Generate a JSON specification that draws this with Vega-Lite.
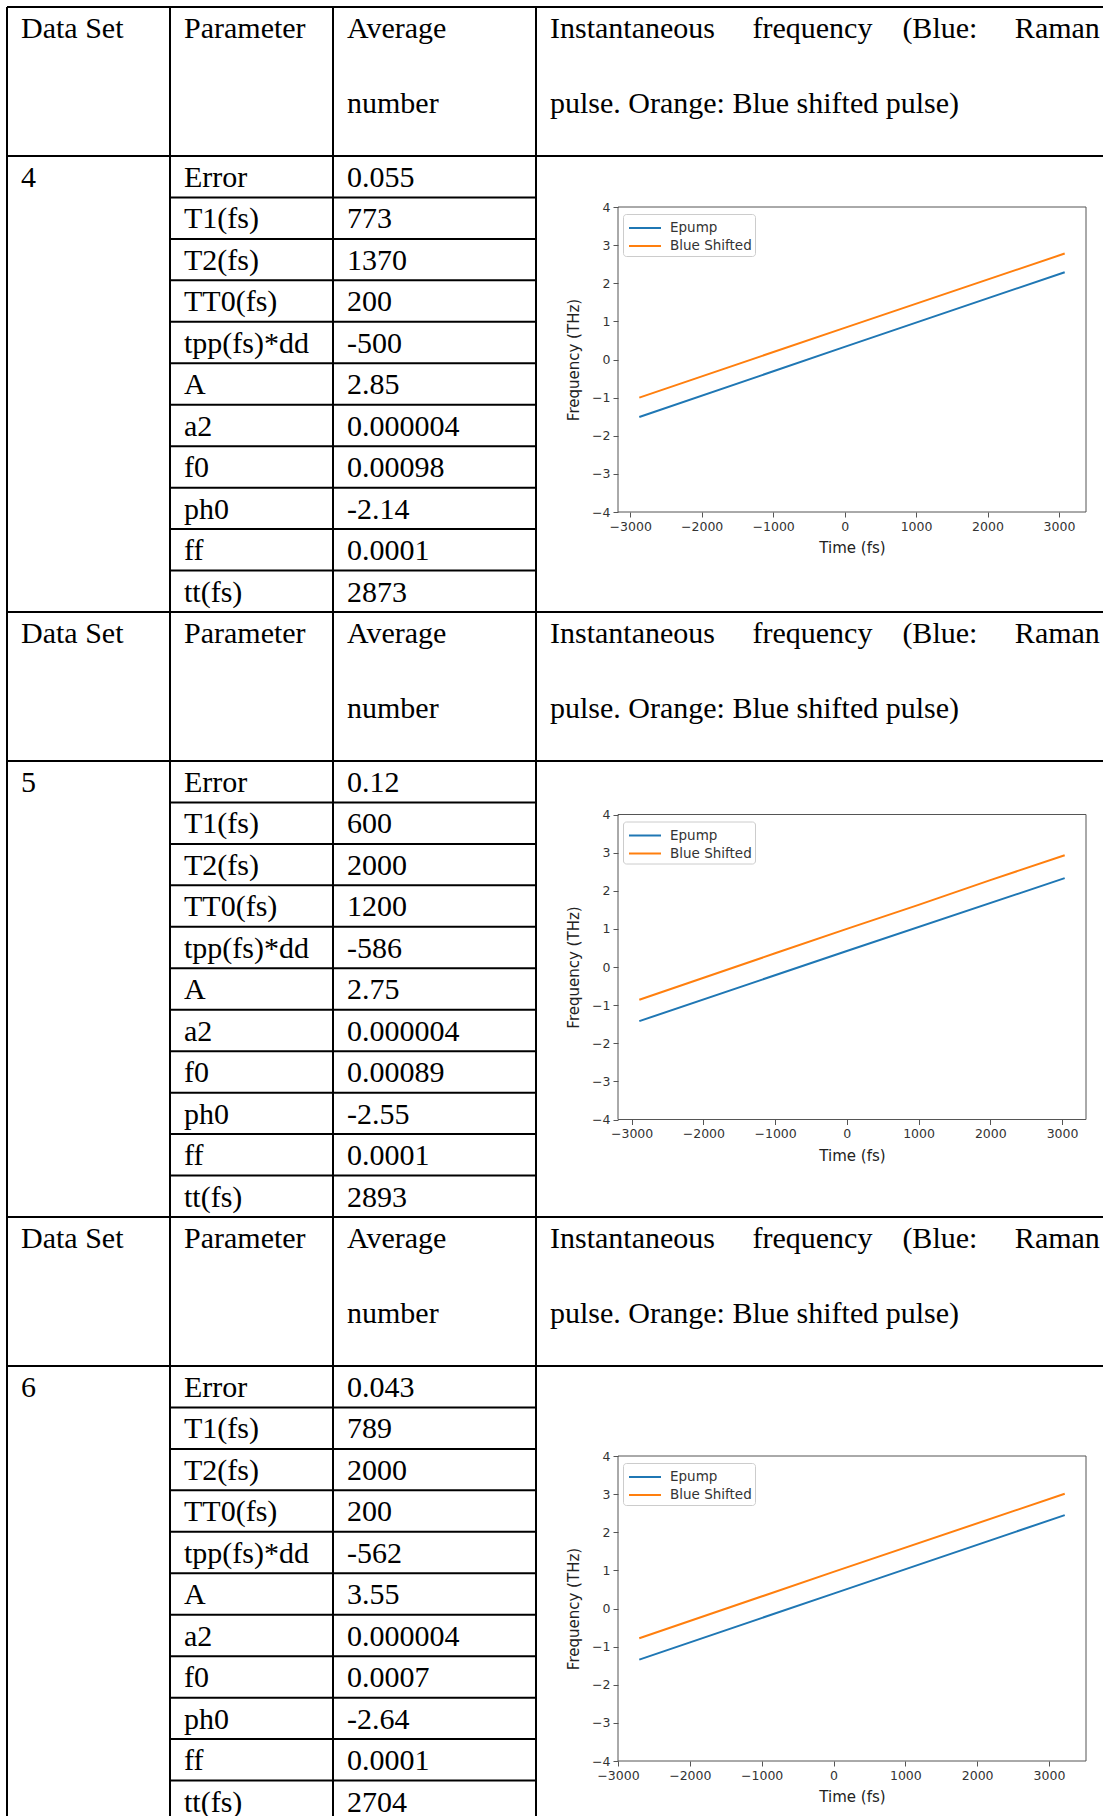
{
  "$schema": "https://vega.github.io/schema/vega-lite/v6.json",
  "background": "white",
  "padding": {"left": 6, "top": 6, "right": 0, "bottom": 0},
  "spacing": 0,
  "bounds": "flush",
  "config": {
    "view": {"stroke": null},
    "text": {"font": "Liberation Serif", "fontSize": 30, "align": "left", "baseline": "alphabetic", "dx": 14, "color": "black"},
    "rule": {"color": "black", "strokeWidth": 2}
  },
  "resolve": {
    "scale": {"x": "independent", "y": "independent", "color": "independent"},
    "axis": {"x": "independent", "y": "independent"},
    "legend": {"color": "independent"}
  },
  "datasets": {
    "header": [
      {"col": 0, "line": 0, "text": "Data Set"},
      {"col": 1, "line": 0, "text": "Parameter"},
      {"col": 2, "line": 0, "text": "Average"},
      {"col": 2, "line": 1, "text": "number"},
      {"col": 3, "line": 0, "text": "Instantaneous\u00a0\u00a0\u00a0\u00a0\u00a0frequency\u00a0\u00a0\u00a0\u00a0(Blue:\u00a0\u00a0\u00a0\u00a0\u00a0Raman"},
      {"col": 3, "line": 1, "text": "pulse. Orange: Blue shifted pulse)"}
    ],
    "borders": [{"b": 0}, {"b": 1}, {"b": 2}, {"b": 3}],
    "hlines": [{"h": 0}, {"h": 2}],
    "params": [
      {"ds": 4, "row": 0, "param": "Error", "value": "0.055"},
      {"ds": 4, "row": 1, "param": "T1(fs)", "value": "773"},
      {"ds": 4, "row": 2, "param": "T2(fs)", "value": "1370"},
      {"ds": 4, "row": 3, "param": "TT0(fs)", "value": "200"},
      {"ds": 4, "row": 4, "param": "tpp(fs)*dd", "value": "-500"},
      {"ds": 4, "row": 5, "param": "A", "value": "2.85"},
      {"ds": 4, "row": 6, "param": "a2", "value": "0.000004"},
      {"ds": 4, "row": 7, "param": "f0", "value": "0.00098"},
      {"ds": 4, "row": 8, "param": "ph0", "value": "-2.14"},
      {"ds": 4, "row": 9, "param": "ff", "value": "0.0001"},
      {"ds": 4, "row": 10, "param": "tt(fs)", "value": "2873"},
      {"ds": 5, "row": 0, "param": "Error", "value": "0.12"},
      {"ds": 5, "row": 1, "param": "T1(fs)", "value": "600"},
      {"ds": 5, "row": 2, "param": "T2(fs)", "value": "2000"},
      {"ds": 5, "row": 3, "param": "TT0(fs)", "value": "1200"},
      {"ds": 5, "row": 4, "param": "tpp(fs)*dd", "value": "-586"},
      {"ds": 5, "row": 5, "param": "A", "value": "2.75"},
      {"ds": 5, "row": 6, "param": "a2", "value": "0.000004"},
      {"ds": 5, "row": 7, "param": "f0", "value": "0.00089"},
      {"ds": 5, "row": 8, "param": "ph0", "value": "-2.55"},
      {"ds": 5, "row": 9, "param": "ff", "value": "0.0001"},
      {"ds": 5, "row": 10, "param": "tt(fs)", "value": "2893"},
      {"ds": 6, "row": 0, "param": "Error", "value": "0.043"},
      {"ds": 6, "row": 1, "param": "T1(fs)", "value": "789"},
      {"ds": 6, "row": 2, "param": "T2(fs)", "value": "2000"},
      {"ds": 6, "row": 3, "param": "TT0(fs)", "value": "200"},
      {"ds": 6, "row": 4, "param": "tpp(fs)*dd", "value": "-562"},
      {"ds": 6, "row": 5, "param": "A", "value": "3.55"},
      {"ds": 6, "row": 6, "param": "a2", "value": "0.000004"},
      {"ds": 6, "row": 7, "param": "f0", "value": "0.0007"},
      {"ds": 6, "row": 8, "param": "ph0", "value": "-2.64"},
      {"ds": 6, "row": 9, "param": "ff", "value": "0.0001"},
      {"ds": 6, "row": 10, "param": "tt(fs)", "value": "2704"}
    ],
    "curves": [
      {"ds": 4, "series": "Epump", "t": -2873, "f": -1.51},
      {"ds": 4, "series": "Epump", "t": 0, "f": 0.33},
      {"ds": 4, "series": "Epump", "t": 3080, "f": 2.29},
      {"ds": 4, "series": "Blue Shifted", "t": -2873, "f": -1.0},
      {"ds": 4, "series": "Blue Shifted", "t": 0, "f": 0.83},
      {"ds": 4, "series": "Blue Shifted", "t": 3080, "f": 2.78},
      {"ds": 5, "series": "Epump", "t": -2893, "f": -1.42},
      {"ds": 5, "series": "Epump", "t": 0, "f": 0.42},
      {"ds": 5, "series": "Epump", "t": 3037, "f": 2.33},
      {"ds": 5, "series": "Blue Shifted", "t": -2893, "f": -0.86},
      {"ds": 5, "series": "Blue Shifted", "t": -1000, "f": 0.36},
      {"ds": 5, "series": "Blue Shifted", "t": 0, "f": 1.0},
      {"ds": 5, "series": "Blue Shifted", "t": 1000, "f": 1.63},
      {"ds": 5, "series": "Blue Shifted", "t": 2000, "f": 2.28},
      {"ds": 5, "series": "Blue Shifted", "t": 3037, "f": 2.93},
      {"ds": 6, "series": "Epump", "t": -2704, "f": -1.34},
      {"ds": 6, "series": "Epump", "t": 0, "f": 0.39},
      {"ds": 6, "series": "Epump", "t": 3219, "f": 2.45},
      {"ds": 6, "series": "Blue Shifted", "t": -2704, "f": -0.78},
      {"ds": 6, "series": "Blue Shifted", "t": 0, "f": 0.96},
      {"ds": 6, "series": "Blue Shifted", "t": 3219, "f": 3.01}
    ]
  },
  "vconcat": [
    {
      "width": 1096, "height": 149,
      "layer": [
        {"data": {"name": "header"}, "mark": {"type": "text", "dy": 31, "clip": true},
         "encoding": {
           "x": {"field": "col", "type": "quantitative", "scale": {"domain": [0, 1, 2, 3], "range": [0, 163, 326, 529], "nice": false, "zero": false}, "axis": null},
           "y": {"field": "line", "type": "quantitative", "scale": {"domain": [0, 2], "range": [0, 149], "nice": false, "zero": false}, "axis": null},
           "text": {"field": "text", "type": "nominal"}}},
        {"data": {"name": "borders"}, "mark": "rule", "encoding": {"x": {"field": "b", "type": "quantitative", "axis": null}}},
        {"data": {"name": "hlines"}, "mark": "rule", "encoding": {"y": {"field": "h", "type": "quantitative", "axis": null}}}
      ]
    },
    {
      "width": 1096, "height": 456,
      "resolve": {"scale": {"x": "independent", "y": "independent"}, "axis": {"x": "independent", "y": "independent"}},
      "layer": [
        {"data": {"name": "params"}, "transform": [{"filter": "datum.ds == 4"}],
         "layer": [
           {"mark": {"type": "text", "dy": 31, "clip": true},
            "encoding": {
              "x": {"datum": 1, "type": "quantitative", "scale": {"domain": [0, 1, 2, 3], "range": [0, 163, 326, 529], "nice": false, "zero": false}, "axis": null},
              "y": {"field": "row", "type": "quantitative", "scale": {"domain": [0, 11], "range": [0, 456], "nice": false, "zero": false}, "axis": null},
              "text": {"field": "param", "type": "nominal"}}},
           {"mark": {"type": "text", "dy": 31, "clip": true},
            "encoding": {
              "x": {"datum": 2, "type": "quantitative", "axis": null},
              "y": {"field": "row", "type": "quantitative", "axis": null},
              "text": {"field": "value", "type": "nominal"}}},
           {"transform": [{"filter": "datum.row == 0"}], "mark": {"type": "text", "dy": 31, "clip": true},
            "encoding": {
              "x": {"datum": 0, "type": "quantitative", "axis": null},
              "y": {"field": "row", "type": "quantitative", "axis": null},
              "text": {"field": "ds", "type": "nominal"}}},
           {"transform": [{"filter": "datum.row >= 1"}], "mark": "rule",
            "encoding": {
              "x": {"datum": 1, "type": "quantitative", "axis": null},
              "x2": {"datum": 3},
              "y": {"field": "row", "type": "quantitative", "axis": null}}},
           {"data": {"name": "borders"}, "mark": "rule", "encoding": {"x": {"field": "b", "type": "quantitative", "axis": null}}}
         ]},
        {"layer": [
           {"data": {"values": [{}]}, "mark": {"type": "rect", "fillOpacity": 0, "stroke": "#555555", "strokeWidth": 1},
            "encoding": {
              "x": {"datum": -3171, "type": "quantitative", "scale": {"domain": [-3171, 3378], "range": [611, 1079], "nice": false, "zero": false},
                    "axis": {"orient": "bottom", "offset": -100, "values": [-3000, -2000, -1000, 0, 1000, 2000, 3000], "format": "d", "domain": false, "grid": false, "tickSize": 5, "tickColor": "#555555", "labelFont": "DejaVu Sans", "labelFontSize": 12.5, "labelColor": "#333333", "labelPadding": 3, "labelFlush": false, "labelOverlap": false, "title": "Time (fs)", "titleFont": "DejaVu Sans", "titleFontSize": 15, "titleFontWeight": "normal", "titleColor": "#222222", "titlePadding": 8}},
              "x2": {"datum": 3378},
              "y": {"datum": -4, "type": "quantitative", "scale": {"domain": [-4, 4], "range": [356, 51], "nice": false, "zero": false},
                    "axis": {"orient": "left", "offset": -611, "values": [-4, -3, -2, -1, 0, 1, 2, 3, 4], "format": "d", "domain": false, "grid": false, "tickSize": 5, "tickColor": "#555555", "labelFont": "DejaVu Sans", "labelFontSize": 12.5, "labelColor": "#333333", "labelPadding": 3, "labelFlush": false, "labelOverlap": false, "title": "Frequency (THz)", "titleFont": "DejaVu Sans", "titleFontSize": 15, "titleFontWeight": "normal", "titleColor": "#222222", "titlePadding": 10}},
              "y2": {"datum": 4}}},
           {"data": {"name": "curves"}, "transform": [{"filter": "datum.ds == 4"}], "mark": {"type": "line", "strokeWidth": 2},
            "encoding": {
              "x": {"field": "t", "type": "quantitative"},
              "y": {"field": "f", "type": "quantitative"},
              "color": {"field": "series", "type": "nominal", "scale": {"domain": ["Epump", "Blue Shifted"], "range": ["#1f77b4", "#ff7f0e"]},
                        "legend": {"title": null, "orient": "none", "legendX": 616, "legendY": 58, "symbolType": "M-1.6,0L1.6,0", "symbolSize": 400, "symbolStrokeWidth": 2, "symbolOffset": 8, "labelOffset": 14, "labelFont": "DejaVu Sans", "labelFontSize": 13.5, "labelColor": "#333333", "padding": 3, "rowPadding": 0, "strokeColor": "#cccccc", "fillColor": "#ffffff", "cornerRadius": 3}}}}
         ]}
      ]
    },
    {
      "width": 1096, "height": 149,
      "layer": [
        {"data": {"name": "header"}, "mark": {"type": "text", "dy": 31, "clip": true},
         "encoding": {
           "x": {"field": "col", "type": "quantitative", "scale": {"domain": [0, 1, 2, 3], "range": [0, 163, 326, 529], "nice": false, "zero": false}, "axis": null},
           "y": {"field": "line", "type": "quantitative", "scale": {"domain": [0, 2], "range": [0, 149], "nice": false, "zero": false}, "axis": null},
           "text": {"field": "text", "type": "nominal"}}},
        {"data": {"name": "borders"}, "mark": "rule", "encoding": {"x": {"field": "b", "type": "quantitative", "axis": null}}},
        {"data": {"name": "hlines"}, "mark": "rule", "encoding": {"y": {"field": "h", "type": "quantitative", "axis": null}}}
      ]
    },
    {
      "width": 1096, "height": 456,
      "resolve": {"scale": {"x": "independent", "y": "independent"}, "axis": {"x": "independent", "y": "independent"}},
      "layer": [
        {"data": {"name": "params"}, "transform": [{"filter": "datum.ds == 5"}],
         "layer": [
           {"mark": {"type": "text", "dy": 31, "clip": true},
            "encoding": {
              "x": {"datum": 1, "type": "quantitative", "scale": {"domain": [0, 1, 2, 3], "range": [0, 163, 326, 529], "nice": false, "zero": false}, "axis": null},
              "y": {"field": "row", "type": "quantitative", "scale": {"domain": [0, 11], "range": [0, 456], "nice": false, "zero": false}, "axis": null},
              "text": {"field": "param", "type": "nominal"}}},
           {"mark": {"type": "text", "dy": 31, "clip": true},
            "encoding": {
              "x": {"datum": 2, "type": "quantitative", "axis": null},
              "y": {"field": "row", "type": "quantitative", "axis": null},
              "text": {"field": "value", "type": "nominal"}}},
           {"transform": [{"filter": "datum.row == 0"}], "mark": {"type": "text", "dy": 31, "clip": true},
            "encoding": {
              "x": {"datum": 0, "type": "quantitative", "axis": null},
              "y": {"field": "row", "type": "quantitative", "axis": null},
              "text": {"field": "ds", "type": "nominal"}}},
           {"transform": [{"filter": "datum.row >= 1"}], "mark": "rule",
            "encoding": {
              "x": {"datum": 1, "type": "quantitative", "axis": null},
              "x2": {"datum": 3},
              "y": {"field": "row", "type": "quantitative", "axis": null}}},
           {"data": {"name": "borders"}, "mark": "rule", "encoding": {"x": {"field": "b", "type": "quantitative", "axis": null}}}
         ]},
        {"layer": [
           {"data": {"values": [{}]}, "mark": {"type": "rect", "fillOpacity": 0, "stroke": "#555555", "strokeWidth": 1},
            "encoding": {
              "x": {"datum": -3190, "type": "quantitative", "scale": {"domain": [-3190, 3334], "range": [611, 1079], "nice": false, "zero": false},
                    "axis": {"orient": "bottom", "offset": -97.5, "values": [-3000, -2000, -1000, 0, 1000, 2000, 3000], "format": "d", "domain": false, "grid": false, "tickSize": 5, "tickColor": "#555555", "labelFont": "DejaVu Sans", "labelFontSize": 12.5, "labelColor": "#333333", "labelPadding": 3, "labelFlush": false, "labelOverlap": false, "title": "Time (fs)", "titleFont": "DejaVu Sans", "titleFontSize": 15, "titleFontWeight": "normal", "titleColor": "#222222", "titlePadding": 8}},
              "x2": {"datum": 3334},
              "y": {"datum": -4, "type": "quantitative", "scale": {"domain": [-4, 4], "range": [358.5, 53.5], "nice": false, "zero": false},
                    "axis": {"orient": "left", "offset": -611, "values": [-4, -3, -2, -1, 0, 1, 2, 3, 4], "format": "d", "domain": false, "grid": false, "tickSize": 5, "tickColor": "#555555", "labelFont": "DejaVu Sans", "labelFontSize": 12.5, "labelColor": "#333333", "labelPadding": 3, "labelFlush": false, "labelOverlap": false, "title": "Frequency (THz)", "titleFont": "DejaVu Sans", "titleFontSize": 15, "titleFontWeight": "normal", "titleColor": "#222222", "titlePadding": 10}},
              "y2": {"datum": 4}}},
           {"data": {"name": "curves"}, "transform": [{"filter": "datum.ds == 5"}], "mark": {"type": "line", "strokeWidth": 2},
            "encoding": {
              "x": {"field": "t", "type": "quantitative"},
              "y": {"field": "f", "type": "quantitative"},
              "color": {"field": "series", "type": "nominal", "scale": {"domain": ["Epump", "Blue Shifted"], "range": ["#1f77b4", "#ff7f0e"]},
                        "legend": {"title": null, "orient": "none", "legendX": 616, "legendY": 60.5, "symbolType": "M-1.6,0L1.6,0", "symbolSize": 400, "symbolStrokeWidth": 2, "symbolOffset": 8, "labelOffset": 14, "labelFont": "DejaVu Sans", "labelFontSize": 13.5, "labelColor": "#333333", "padding": 3, "rowPadding": 0, "strokeColor": "#cccccc", "fillColor": "#ffffff", "cornerRadius": 3}}}}
         ]}
      ]
    },
    {
      "width": 1096, "height": 149,
      "layer": [
        {"data": {"name": "header"}, "mark": {"type": "text", "dy": 31, "clip": true},
         "encoding": {
           "x": {"field": "col", "type": "quantitative", "scale": {"domain": [0, 1, 2, 3], "range": [0, 163, 326, 529], "nice": false, "zero": false}, "axis": null},
           "y": {"field": "line", "type": "quantitative", "scale": {"domain": [0, 2], "range": [0, 149], "nice": false, "zero": false}, "axis": null},
           "text": {"field": "text", "type": "nominal"}}},
        {"data": {"name": "borders"}, "mark": "rule", "encoding": {"x": {"field": "b", "type": "quantitative", "axis": null}}},
        {"data": {"name": "hlines"}, "mark": "rule", "encoding": {"y": {"field": "h", "type": "quantitative", "axis": null}}}
      ]
    },
    {
      "width": 1096, "height": 450,
      "resolve": {"scale": {"x": "independent", "y": "independent"}, "axis": {"x": "independent", "y": "independent"}},
      "layer": [
        {"data": {"name": "params"}, "transform": [{"filter": "datum.ds == 6"}],
         "layer": [
           {"mark": {"type": "text", "dy": 31, "clip": true},
            "encoding": {
              "x": {"datum": 1, "type": "quantitative", "scale": {"domain": [0, 1, 2, 3], "range": [0, 163, 326, 529], "nice": false, "zero": false}, "axis": null},
              "y": {"field": "row", "type": "quantitative", "scale": {"domain": [0, 11], "range": [0, 456], "nice": false, "zero": false}, "axis": null},
              "text": {"field": "param", "type": "nominal"}}},
           {"mark": {"type": "text", "dy": 31, "clip": true},
            "encoding": {
              "x": {"datum": 2, "type": "quantitative", "axis": null},
              "y": {"field": "row", "type": "quantitative", "axis": null},
              "text": {"field": "value", "type": "nominal"}}},
           {"transform": [{"filter": "datum.row == 0"}], "mark": {"type": "text", "dy": 31, "clip": true},
            "encoding": {
              "x": {"datum": 0, "type": "quantitative", "axis": null},
              "y": {"field": "row", "type": "quantitative", "axis": null},
              "text": {"field": "ds", "type": "nominal"}}},
           {"transform": [{"filter": "datum.row >= 1"}], "mark": "rule",
            "encoding": {
              "x": {"datum": 1, "type": "quantitative", "axis": null},
              "x2": {"datum": 3},
              "y": {"field": "row", "type": "quantitative", "axis": null}}},
           {"data": {"name": "borders"}, "mark": "rule", "encoding": {"x": {"field": "b", "type": "quantitative", "axis": null}}}
         ]},
        {"layer": [
           {"data": {"values": [{}]}, "mark": {"type": "rect", "fillOpacity": 0, "stroke": "#555555", "strokeWidth": 1},
            "encoding": {
              "x": {"datum": -3000, "type": "quantitative", "scale": {"domain": [-3000, 3515], "range": [611, 1079], "nice": false, "zero": false},
                    "axis": {"orient": "bottom", "offset": -55, "values": [-3000, -2000, -1000, 0, 1000, 2000, 3000], "format": "d", "domain": false, "grid": false, "tickSize": 5, "tickColor": "#555555", "labelFont": "DejaVu Sans", "labelFontSize": 12.5, "labelColor": "#333333", "labelPadding": 3, "labelFlush": false, "labelOverlap": false, "title": "Time (fs)", "titleFont": "DejaVu Sans", "titleFontSize": 15, "titleFontWeight": "normal", "titleColor": "#222222", "titlePadding": 8}},
              "x2": {"datum": 3515},
              "y": {"datum": -4, "type": "quantitative", "scale": {"domain": [-4, 4], "range": [395, 90], "nice": false, "zero": false},
                    "axis": {"orient": "left", "offset": -611, "values": [-4, -3, -2, -1, 0, 1, 2, 3, 4], "format": "d", "domain": false, "grid": false, "tickSize": 5, "tickColor": "#555555", "labelFont": "DejaVu Sans", "labelFontSize": 12.5, "labelColor": "#333333", "labelPadding": 3, "labelFlush": false, "labelOverlap": false, "title": "Frequency (THz)", "titleFont": "DejaVu Sans", "titleFontSize": 15, "titleFontWeight": "normal", "titleColor": "#222222", "titlePadding": 10}},
              "y2": {"datum": 4}}},
           {"data": {"name": "curves"}, "transform": [{"filter": "datum.ds == 6"}], "mark": {"type": "line", "strokeWidth": 2},
            "encoding": {
              "x": {"field": "t", "type": "quantitative"},
              "y": {"field": "f", "type": "quantitative"},
              "color": {"field": "series", "type": "nominal", "scale": {"domain": ["Epump", "Blue Shifted"], "range": ["#1f77b4", "#ff7f0e"]},
                        "legend": {"title": null, "orient": "none", "legendX": 616, "legendY": 97, "symbolType": "M-1.6,0L1.6,0", "symbolSize": 400, "symbolStrokeWidth": 2, "symbolOffset": 8, "labelOffset": 14, "labelFont": "DejaVu Sans", "labelFontSize": 13.5, "labelColor": "#333333", "padding": 3, "rowPadding": 0, "strokeColor": "#cccccc", "fillColor": "#ffffff", "cornerRadius": 3}}}}
         ]}
      ]
    }
  ]
}
